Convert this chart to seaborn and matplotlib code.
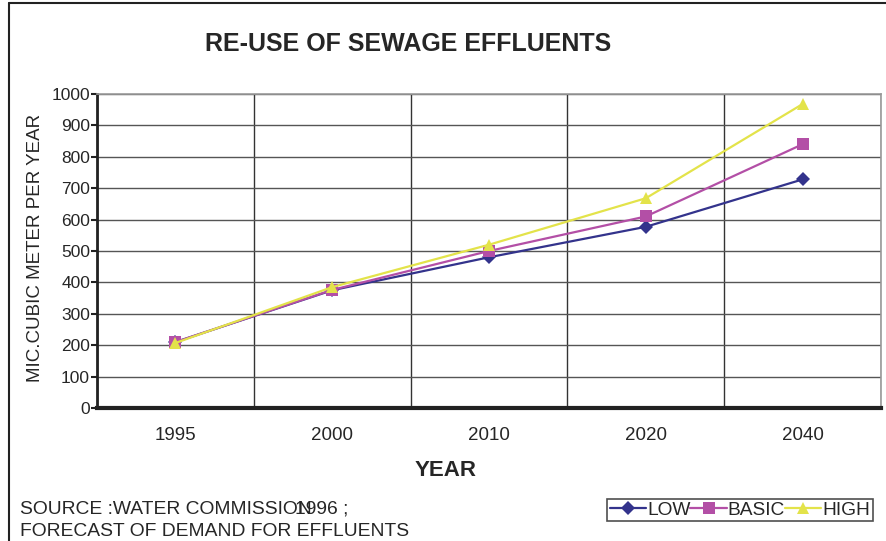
import matplotlib
matplotlib.use("Agg")
import matplotlib.pyplot as plt
import seaborn as sns
import pandas as pd
from matplotlib.lines import Line2D
from matplotlib.ticker import MultipleLocator, FixedLocator

years = ["1995", "2000", "2010", "2020", "2040"]
low = [210, 375, 480, 577, 728]
basic = [210, 376, 500, 610, 840]
high = [207, 385, 520, 668, 968]

series = ["LOW", "BASIC", "HIGH"]
colors = {"LOW": "#33338C", "BASIC": "#B34FA6", "HIGH": "#E3E34A"}
markers = {"LOW": "D", "BASIC": "s", "HIGH": "^"}
msizes = {"LOW": 7, "BASIC": 8, "HIGH": 9}

df = pd.DataFrame({
    "year": years * 3,
    "value": low + basic + high,
    "scenario": ["LOW"] * 5 + ["BASIC"] * 5 + ["HIGH"] * 5,
})

sns.set_style("white")
plt.rcParams["font.family"] = ["Liberation Sans", "DejaVu Sans"]

fig = plt.figure(figsize=(8.87, 5.41), dpi=100)
ax = fig.add_axes([97 / 887, 1 - 408 / 541, 784 / 887, 314 / 541])

pos = {y: i for i, y in enumerate(years)}
df["x"] = df["year"].map(pos)

for s in series:
    sub = df[df["scenario"] == s]
    sns.lineplot(data=sub, x="x", y="value", ax=ax, color=colors[s],
                 marker=markers[s], markersize=msizes[s], markeredgewidth=0,
                 linewidth=1.6, label=s, legend=False)

ax.set_xlim(-0.5, len(years) - 0.5)
ax.set_ylim(0, 1000)
ax.yaxis.set_major_locator(MultipleLocator(100))
ax.set_xticks(range(len(years)))
ax.set_xticklabels(years)
ax.xaxis.set_minor_locator(FixedLocator([i + 0.5 for i in range(-1, len(years))]))
ax.tick_params(axis="x", which="major", length=0, pad=14, labelsize=13.5)
ax.tick_params(axis="x", which="minor", length=5, width=1.5, direction="out", color="#222222")
ax.tick_params(axis="y", which="major", length=4, width=1.5, pad=1, labelsize=12.5,
               direction="out", left=True, color="#222222")

ax.grid(True, axis="y", which="major", color="#555555", linewidth=1)
ax.grid(True, axis="x", which="minor", color="#333333", linewidth=1)
ax.set_axisbelow(True)

for side in ["top", "right"]:
    ax.spines[side].set_color("#9a9a9a")
    ax.spines[side].set_linewidth(1.2)
ax.spines["left"].set_color("#222222")
ax.spines["left"].set_linewidth(2)
ax.spines["bottom"].set_color("#222222")
ax.spines["bottom"].set_linewidth(3)

ax.set_xlabel("")
ax.set_ylabel("")
fig.text(446 / 887, 1 - 470 / 541, "YEAR", fontsize=16, fontweight="bold",
         ha="center", va="center")
fig.text(36 / 887, 1 - 248 / 541, "MIC.CUBIC METER PER YEAR", fontsize=13.5,
         rotation=90, ha="center", va="center")
fig.text(408 / 887, 1 - 44 / 541, "RE-USE OF SEWAGE EFFLUENTS", fontsize=18,
         fontweight="bold", ha="center", va="center")

fig.text(20 / 887, 1 - 509 / 541, "SOURCE :WATER COMMISSION", fontsize=13.9,
         ha="left", va="center")
fig.text(295 / 887, 1 - 509 / 541, "1996 ;", fontsize=13.9, ha="left", va="center")
fig.text(20 / 887, 1 - 531 / 541, "FORECAST OF DEMAND FOR EFFLUENTS", fontsize=13.9,
         ha="left", va="center")

handles, labels = ax.get_legend_handles_labels()
leg = fig.legend(handles, labels, loc="center", bbox_to_anchor=(740 / 887, 1 - 510 / 541),
                 ncol=3, fontsize=13.8, frameon=True, fancybox=False, edgecolor="#222222",
                 handlelength=1.9, handletextpad=0.05, columnspacing=0.0, borderpad=0.12,
                 borderaxespad=0)
leg.get_frame().set_linewidth(1.2)

# outer chart border (left and top edges visible)
fig.add_artist(Line2D([9 / 887, 9 / 887], [0, 1 - 3 / 541], transform=fig.transFigure,
                      color="#222222", linewidth=1.5))
fig.add_artist(Line2D([9 / 887, 1], [1 - 3 / 541, 1 - 3 / 541], transform=fig.transFigure,
                      color="#222222", linewidth=1.5))

fig.savefig("out.png", dpi=100)
